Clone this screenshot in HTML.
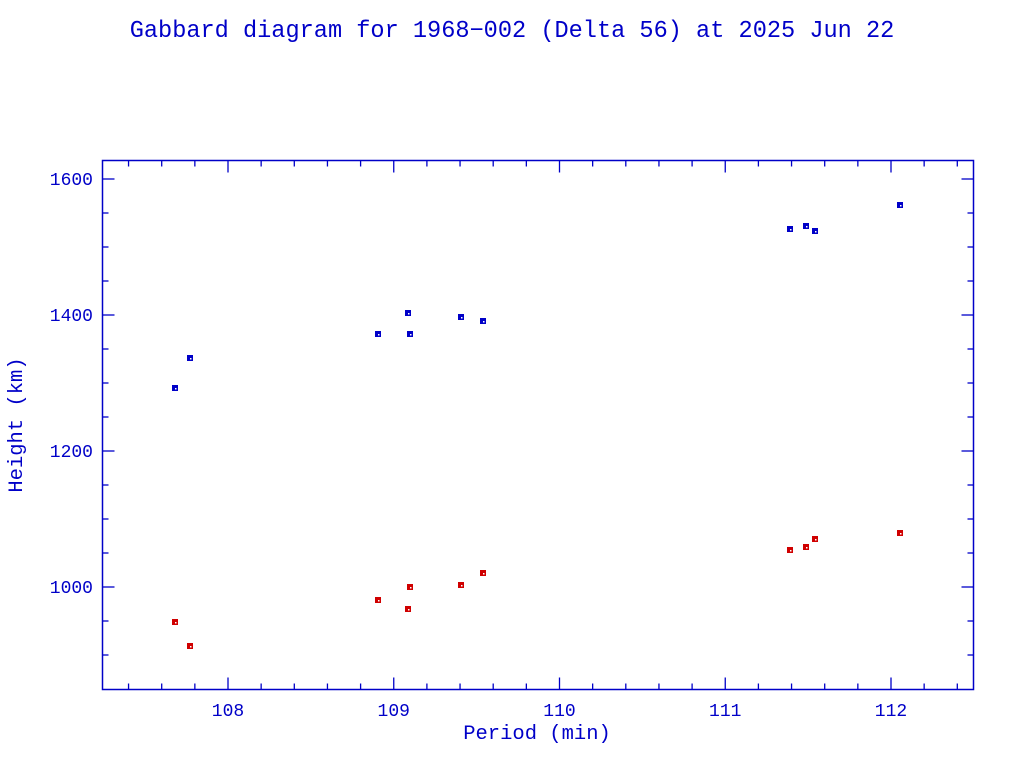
<!DOCTYPE html>
<html><head><meta charset="utf-8"><style>
html,body{margin:0;padding:0;background:#fff;}
svg{display:block;}
text{font-family:"Liberation Mono",monospace;fill:#0000c8;}
</style></head><body>
<svg id="s" width="1024" height="768" xmlns="http://www.w3.org/2000/svg">
<text x="512" y="37" font-size="23.6" text-anchor="middle">Gabbard diagram for 1968−002 (Delta 56) at 2025 Jun 22</text>
<text x="537" y="739" font-size="20.5" text-anchor="middle">Period (min)</text>
<text transform="translate(22,425) rotate(-90)" font-size="20.5" text-anchor="middle">Height (km)</text>
<rect x="102.5" y="160.5" width="871" height="529" fill="none" stroke="#0000c8" stroke-width="1.5"/>
<g id="t" stroke="#0000c8" stroke-width="1.3"></g>
<g id="l"></g>
<g id="p"></g>
</svg>
<script>
var ns="http://www.w3.org/2000/svg",t=document.getElementById('t'),l=document.getElementById('l'),p=document.getElementById('p');
function ln(x1,y1,x2,y2){var e=document.createElementNS(ns,'line');e.setAttribute('x1',x1);e.setAttribute('y1',y1);e.setAttribute('x2',x2);e.setAttribute('y2',y2);t.appendChild(e);}
function tx(x,y,s,a){var e=document.createElementNS(ns,'text');e.setAttribute('x',x);e.setAttribute('y',y);e.setAttribute('font-size','18');e.setAttribute('text-anchor',a);e.textContent=s;l.appendChild(e);}
function X(v){return 228+(v-108)*165.75;}
function Y(v){return 587-(v-1000)*0.68;}
for(var i=0;i<=25;i++){var v=107.4+i*0.2,x=X(v);var maj=Math.abs(v-Math.round(v))<0.01;var L=maj?12:6;ln(x,689.5,x,689.5-L);ln(x,160.5,x,160.5+L);if(maj)tx(x,716,Math.round(v)+'','middle');}
for(var v=900;v<=1600;v+=50){var y=Y(v);var maj=v%200==0;var L=maj?12:6;ln(102.5,y,102.5+L,y);ln(973.5,y,973.5-L,y);if(maj)tx(93,y+6,v+'','end');}
var B=[[175,388],[190,358],[378,334],[408,313],[410,334],[461,317],[483,321],[790,229],[806,226],[815,231],[900,205]];
var R=[[175,622],[190,646],[378,600],[408,609],[410,587],[461,585],[483,573],[790,550],[806,547],[815,539],[900,533]];
function pt(a,c){a.forEach(function(q){var r=document.createElementNS(ns,'rect');r.setAttribute('x',q[0]-3);r.setAttribute('y',q[1]-3);r.setAttribute('width',6);r.setAttribute('height',6);r.setAttribute('fill',c);p.appendChild(r);var w=document.createElementNS(ns,'rect');w.setAttribute('x',q[0]);w.setAttribute('y',q[1]);w.setAttribute('width',1.5);w.setAttribute('height',1.5);w.setAttribute('fill','#fff');p.appendChild(w);});}
pt(B,'#0000c8');pt(R,'#d00000');
</script>
</body></html>
